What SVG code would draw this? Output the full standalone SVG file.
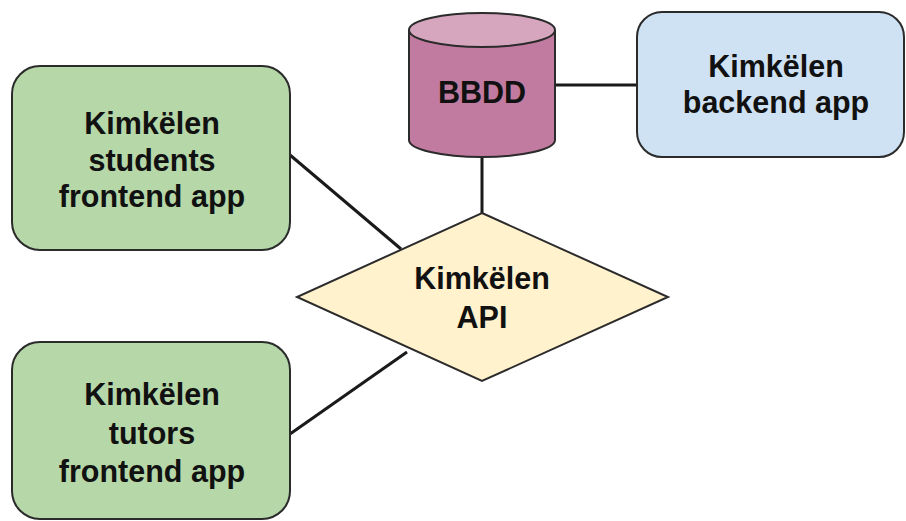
<svg xmlns="http://www.w3.org/2000/svg" width="906" height="521" viewBox="0 0 906 521">
  <style>
    .edge { stroke: #1a1a1a; stroke-width: 3; fill: none; }
    .shape { stroke: #2b2b2b; stroke-width: 2; }
    .lbl { font-family: "Liberation Sans", Arial, sans-serif; font-weight: bold; font-size: 30.5px; fill: #111; text-anchor: middle; }
  </style>
  <rect width="906" height="521" fill="#ffffff"/>
  <g id="connectors">
    <line class="edge" x1="482" y1="157" x2="482" y2="214"/>
    <line class="edge" x1="555" y1="85" x2="637" y2="85"/>
    <line class="edge" x1="290" y1="155" x2="401" y2="249"/>
    <line class="edge" x1="290" y1="434" x2="407" y2="352"/>
  </g>
  <g id="students">
    <rect class="shape" x="12" y="66" width="278" height="184" rx="28" fill="#b6d7a8"/>
    <text class="lbl" x="152" y="134">Kimkëlen</text>
    <text class="lbl" x="152" y="171">students</text>
    <text class="lbl" x="152" y="207">frontend app</text>
  </g>
  <g id="tutors">
    <rect class="shape" x="12" y="342" width="278" height="177" rx="28" fill="#b6d7a8"/>
    <text class="lbl" x="152" y="405">Kimkëlen</text>
    <text class="lbl" x="152" y="444">tutors</text>
    <text class="lbl" x="152" y="482">frontend app</text>
  </g>
  <g id="database">
    <path class="shape" d="M409,30 V140 A73,17 0 0 0 555,140 V30" fill="#c27ba0"/>
    <ellipse class="shape" cx="482" cy="30" rx="73" ry="17" fill="#d5a6bd"/>
    <text class="lbl" x="482" y="103">BBDD</text>
  </g>
  <g id="backend">
    <rect class="shape" x="637" y="12" width="267" height="145" rx="25" fill="#cfe2f3"/>
    <text class="lbl" x="776" y="77">Kimkëlen</text>
    <text class="lbl" x="776" y="113">backend app</text>
  </g>
  <g id="api">
    <polygon class="shape" points="482,213 668,297 482,381 297,297" fill="#fff2cc"/>
    <text class="lbl" x="482" y="289">Kimkëlen</text>
    <text class="lbl" x="482" y="328">API</text>
  </g>
</svg>
